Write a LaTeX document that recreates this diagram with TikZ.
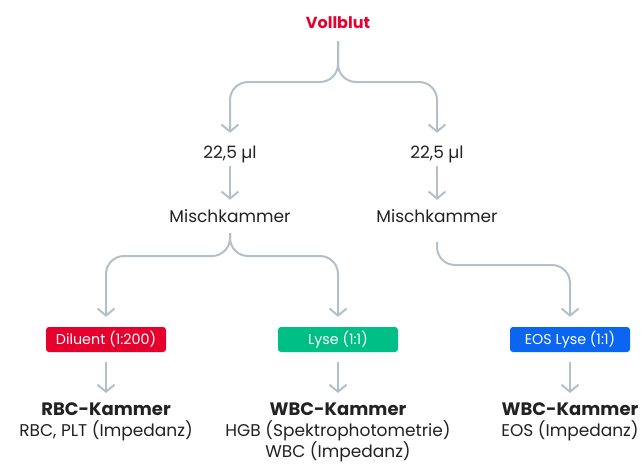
\documentclass[tikz,border=0pt]{standalone}
\usepackage{fontspec}
\setmainfont{Poppins}
\usetikzlibrary{arrows.meta}
\definecolor{vred}{HTML}{E6002D}
\definecolor{vgreen}{HTML}{00BF86}
\definecolor{vblue}{HTML}{0A66F0}
\definecolor{vgrey}{HTML}{B3C0C8}
\definecolor{vtext}{HTML}{222222}
\tikzset{
  conn/.style={draw=vgrey, line width=2pt, rounded corners=18pt,
    -{Straight Barb[length=7pt,width=17pt,line width=2pt]}},
  lbl/.style={inner sep=0pt, text=vtext, font=\fontsize{17}{22}\selectfont,
    text height=12pt, text depth=4pt},
  top/.style={inner sep=0pt, text=vred, font=\fontsize{16}{20}\selectfont\bfseries,
    text height=11pt, text depth=3pt},
  reagent/.style={inner sep=0pt, rounded corners=3pt, minimum width=120pt,
    minimum height=25pt, text=white, font=\fontsize{14.3}{16}\selectfont},
  result/.style={inner sep=0pt, anchor=north, align=center, text=vtext,
    font=\fontsize{17}{21}\selectfont},
}
\newcommand{\ttl}[1]{{\fontsize{18}{21}\selectfont\bfseries #1}}
\begin{document}
\begin{tikzpicture}[x=1pt,y=-1pt]
\useasboundingbox (0,0) rectangle (642,464);
\node[top] (vb) at (338,24) {Vollblut};
\node[lbl] (a1) at (230,154) {22,5 µl};
\node[lbl] (a2) at (437,154) {22,5 µl};
\node[lbl] (m1) at (230,218) {Mischkammer};
\node[lbl] (m2) at (437,218) {Mischkammer};
\node[reagent, fill=vred] (d) at (106,339.5) {Diluent (1:200)};
\node[reagent, fill=vgreen] (l) at (338,339.5) {Lyse (1:1)};
\node[reagent, fill=vblue] (e) at (570,339.5) {EOS Lyse (1:1)};
\node[result] (r1) at (106,403) {\ttl{RBC-Kammer}\\RBC, PLT (Impedanz)};
\node[result] (r2) at (338,403) {\ttl{WBC-Kammer}\\HGB (Spektrophotometrie)\\WBC (Impedanz)};
\node[result] (r3) at (570,403) {\ttl{WBC-Kammer}\\EOS (Impedanz)};
\coordinate (j1) at (338,82);
\coordinate (j2) at (230,256);
\coordinate (j3) at (437,265);
% Vollblut split
\draw[conn, shorten <=10pt, shorten >=13pt] (vb.south) -- (j1) -| (a1.north);
\draw[conn, shorten <=10pt, shorten >=13pt] (vb.south) -- (j1) -| (a2.north);
% sample to chamber
\draw[conn, shorten <=4pt, shorten >=10pt] (a1.south) -- (m1.north);
\draw[conn, shorten <=4pt, shorten >=10pt] (a2.south) -- (m2.north);
% chamber split
\draw[conn, shorten <=7pt, shorten >=10pt] (m1.south) -- (j2) -| (d.north);
\draw[conn, shorten <=7pt, shorten >=10pt] (m1.south) -- (j2) -| (l.north);
\draw[conn, shorten <=16pt, shorten >=10pt] (m2.south) -- (j3) -| (e.north);
% reagent to result
\draw[conn, shorten <=10pt, shorten >=10pt] (d.south) -- (r1.north);
\draw[conn, shorten <=10pt, shorten >=10pt] (l.south) -- (r2.north);
\draw[conn, shorten <=10pt, shorten >=10pt] (e.south) -- (r3.north);
\end{tikzpicture}
\end{document}
